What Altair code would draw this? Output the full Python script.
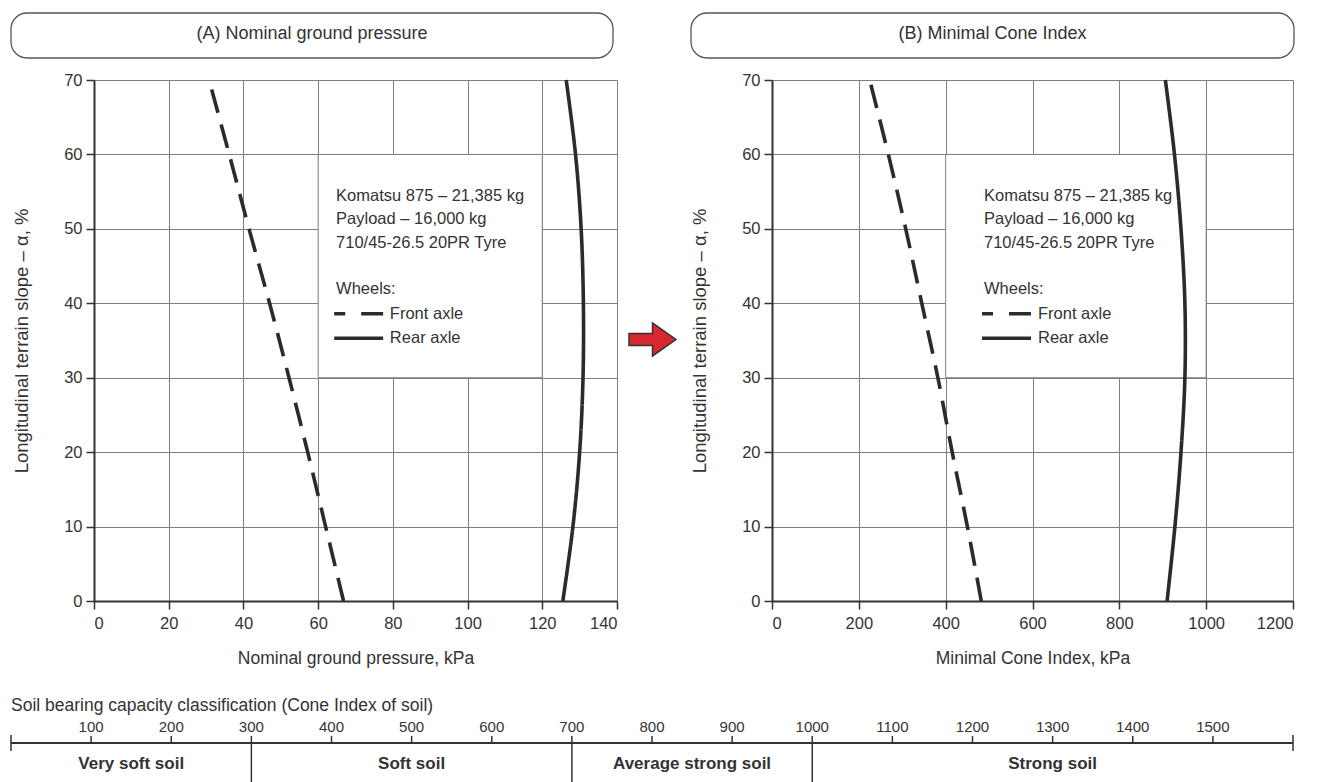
import altair as alt
import pandas as pd

FONT = "Liberation Sans"
INK = "#2b2b2b"
TXT = "#333333"
GRID = "#7f7f7f"

# ---- data ----
slope = [0, 10, 20, 30, 40, 50, 60, 70]
ngp_front = [66.8, 62.0, 57.2, 52.2, 47.0, 41.5, 36.2, 30.8]
ngp_rear = [125.5, 128.2, 130.0, 130.9, 131.0, 130.4, 128.9, 126.4]
mci_front = [482, 450, 415, 382, 345, 308, 268, 225]
mci_rear = [910, 928, 942, 951, 951, 942, 927, 906]

info_lines = ["Komatsu 875 – 21,385 kg", "Payload – 16,000 kg", "710/45-26.5 20PR Tyre", "Wheels:"]
info_y = [54.4, 51.3, 48.1, 41.9]
legend_labels = ["Front axle", "Rear axle"]
legend_y = [38.6, 35.3]

soil_ticks = list(range(100, 1600, 100))
soil_classes = ["Very soft soil", "Soft soil", "Average strong soil", "Strong soil"]
soil_start = [0, 300, 700, 1000]
soil_end = [300, 700, 1000, 1600]
soil_title = "Soil bearing capacity classification (Cone Index of soil)"

ARROW = "M-1,-0.255L0,-0.255L0,-0.7L1,0L0,0.7L0,0.255L-1,0.255Z"


def panel(front, rear, xmax, xstep, xtitle, heading, box_x, text_x, samp, lab_x, width, box_px, arrow=False):
    xsc = alt.Scale(domain=[0, xmax], nice=False, zero=True)
    ysc = alt.Scale(domain=[0, 70], nice=False)
    xaxis = alt.Axis(values=list(range(0, xmax + 1, xstep)), title=xtitle, grid=True, format="d",
                     tickSize=8, labelPadding=6, titlePadding=18)
    yaxis = alt.Axis(values=slope, title="Longitudinal terrain slope – α, %", grid=True,
                     tickSize=8, labelPadding=4, titlePadding=32, titleFontSize=18.5)

    def X(f):
        return alt.X(f, type="quantitative", scale=xsc, axis=xaxis)

    def Y(f):
        return alt.Y(f, type="quantitative", scale=ysc, axis=yaxis)

    lines_df = pd.DataFrame({
        "x": front + rear,
        "y": slope + slope,
        "axle": ["Front"] * len(slope) + ["Rear"] * len(slope),
    })
    box_df = pd.DataFrame({"x": [box_x[0]], "x2": [box_x[1]], "y": [30], "y2": [60]})
    info_df = pd.DataFrame({"x": [text_x] * len(info_lines), "y": info_y, "t": info_lines})
    lab_df = pd.DataFrame({"x": [lab_x] * 2, "y": legend_y, "t": legend_labels})
    samp_front = pd.DataFrame({"x": [samp[0]], "x2": [samp[1]], "y": [legend_y[0]]})
    samp_rear = pd.DataFrame({"x": [samp[0]], "x2": [samp[1]], "y": [legend_y[1]]})
    one = pd.DataFrame({"t": [heading]})

    box = alt.Chart(box_df).mark_rect(fill="white", stroke=GRID, strokeWidth=1).encode(
        x=X("x"), x2="x2", y=Y("y"), y2="y2")
    lines = alt.Chart(lines_df).mark_line(strokeWidth=3.6, color=INK, interpolate="catmull-rom").encode(
        x=X("x"), y=Y("y"), order="y:Q", detail="axle:N",
        strokeDash=alt.StrokeDash("axle:N", scale=alt.Scale(domain=["Front", "Rear"], range=[[24, 12], [1, 0]]), legend=None))
    info = alt.Chart(info_df).mark_text(align="left", baseline="middle", font=FONT, fontSize=16.5, color=TXT).encode(
        x=X("x"), y=Y("y"), text="t:N")
    labs = alt.Chart(lab_df).mark_text(align="left", baseline="middle", font=FONT, fontSize=16.5, color=TXT).encode(
        x=X("x"), y=Y("y"), text="t:N")
    s1 = alt.Chart(samp_front).mark_rule(strokeWidth=3.6, color=INK, strokeDash=[22, 16], strokeDashOffset=11).encode(
        x=X("x"), x2="x2", y=Y("y"))
    s2 = alt.Chart(samp_rear).mark_rule(strokeWidth=3.6, color=INK).encode(
        x=X("x"), x2="x2", y=Y("y"))
    hbox = alt.Chart(one).mark_rect(fill="white", stroke="#555555", strokeWidth=1.3, cornerRadius=16).encode(
        x=alt.value(box_px[0]), x2=alt.value(box_px[1]), y=alt.value(-67), y2=alt.value(-22))
    htxt = alt.Chart(one).mark_text(font=FONT, fontSize=18, color=TXT, align="center", baseline="middle").encode(
        x=alt.value((box_px[0] + box_px[1]) / 2), y=alt.value(-46), text="t:N")
    layers = [box, lines, info, labs, s1, s2, hbox, htxt]
    if arrow:
        arr = alt.Chart(one).mark_point(shape=ARROW, size=2209, filled=True, fill="#d7282f",
                                        stroke="#333333", strokeWidth=1.5, opacity=1).encode(
            x=alt.value(558.5), y=alt.value(259.5))
        layers.append(arr)
    return alt.layer(*layers).properties(width=width, height=521)


# ---- soil classification scale (drawn below panel A, own x scale) ----
LEFT = -83
LINE_Y = 663          # relative to panel-A plot top
bsc = alt.Scale(domain=[0, 1600], nice=False, range=[LEFT, 1199])


def BX(f):
    return alt.X(f, type="quantitative", scale=bsc, axis=None)


cls_df = pd.DataFrame({"name": soil_classes, "start": soil_start, "end": soil_end})
cls_df["mid"] = (cls_df["start"] + cls_df["end"]) / 2
tick_df = pd.DataFrame({"v": soil_ticks, "lab": [str(v) for v in soil_ticks]})
div_df = pd.DataFrame({"v": soil_start[1:]})
end_df = pd.DataFrame({"v": [soil_start[0], soil_end[-1]]})
span_df = pd.DataFrame({"a": [soil_start[0]], "b": [soil_end[-1]]})
ttl_df = pd.DataFrame({"t": [soil_title]})

s_line = alt.Chart(span_df).mark_rule(color="#333333", strokeWidth=2).encode(
    x=BX("a"), x2="b", y=alt.value(LINE_Y))
s_ticks = alt.Chart(tick_df).mark_rule(color="#333333", strokeWidth=1.5).encode(
    x=BX("v"), y=alt.value(LINE_Y - 7), y2=alt.value(LINE_Y))
s_labels = alt.Chart(tick_df).mark_text(font=FONT, fontSize=15, color=TXT, baseline="middle").encode(
    x=BX("v"), y=alt.value(LINE_Y - 16), text="lab:N")
s_ends = alt.Chart(end_df).mark_rule(color="#333333", strokeWidth=1.5).encode(
    x=BX("v"), y=alt.value(LINE_Y - 8), y2=alt.value(LINE_Y + 8))
s_divs = alt.Chart(div_df).mark_rule(color="#333333", strokeWidth=1.5).encode(
    x=BX("v"), y=alt.value(LINE_Y), y2=alt.value(703))
s_cls = alt.Chart(cls_df).mark_text(font=FONT, fontSize=17, fontWeight="bold", color=TXT, baseline="middle").encode(
    x=BX("mid"), y=alt.value(LINE_Y + 21), text="name:N")
s_ttl = alt.Chart(ttl_df).mark_text(font=FONT, fontSize=17.5, color=TXT, align="left", baseline="middle").encode(
    x=alt.value(LEFT), y=alt.value(LINE_Y - 37), text="t:N")
soil = alt.layer(s_line, s_ticks, s_labels, s_ends, s_divs, s_cls, s_ttl)

pA_main = panel(ngp_front, ngp_rear, 140, 20, "Nominal ground pressure, kPa", "(A) Nominal ground pressure",
                (60, 120), 64.8, (64.3, 77.4), 79.2, 523, (-83, 519), arrow=True)
pA = alt.layer(pA_main, soil).resolve_scale(x="independent").properties(width=523, height=521)
pB = panel(mci_front, mci_rear, 1200, 200, "Minimal Cone Index, kPa", "(B) Minimal Cone Index",
           (400, 1000), 488.3, (483.7, 596.5), 612.6, 521, (-81, 522))

chart = alt.hconcat(pA, pB, spacing=155, bounds="flush").properties(
    padding={"left": 10, "top": 12, "right": 0, "bottom": 0}
).configure_view(stroke=None).configure_axis(
    labelFont=FONT, titleFont=FONT, labelFontSize=16.5, titleFontSize=17.5, titleFontWeight="normal",
    labelColor=TXT, titleColor=TXT, gridColor=GRID, gridWidth=1, gridOpacity=1,
    domainColor="#333333", domainWidth=2, tickColor="#333333", tickWidth=1.5
)

chart.save("out.html", embed_options={"renderer": "svg", "actions": False})
